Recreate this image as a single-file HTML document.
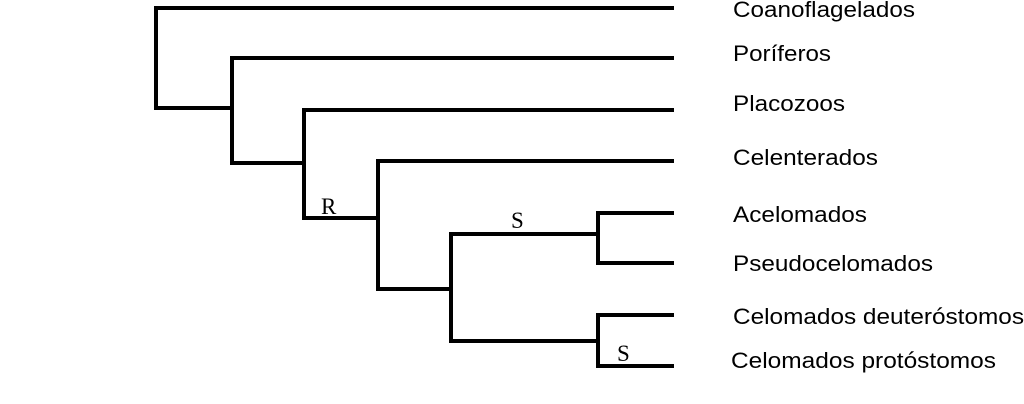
<!DOCTYPE html>
<html><head><meta charset="utf-8"><style>
html,body{margin:0;padding:0;background:#fff;width:1024px;height:404px;overflow:hidden}
</style></head><body>
<svg width="1024" height="404" xmlns="http://www.w3.org/2000/svg">
<g stroke="#000" stroke-width="4" fill="none" stroke-linecap="square" stroke-linejoin="miter">
<path d="M672 8 H156 V108 H232"/>
<path d="M672 58 H232 V163 H304"/>
<path d="M672 110 H304 V218 H378"/>
<path d="M672 161 H378 V289 H451"/>
<path d="M598 234 H451 V341 H598"/>
<path d="M672 213 H598 V263 H672"/>
<path d="M672 315 H598 V366 H672"/>
</g>
<g font-family="Liberation Sans, sans-serif" font-size="22" fill="#000" dominant-baseline="middle" lengthAdjust="spacingAndGlyphs">
<text x="733" y="11" textLength="182" lengthAdjust="spacingAndGlyphs">Coanoflagelados</text>
<text x="733" y="55" textLength="98" lengthAdjust="spacingAndGlyphs">Poríferos</text>
<text x="733" y="105" textLength="112" lengthAdjust="spacingAndGlyphs">Placozoos</text>
<text x="733" y="159" textLength="145" lengthAdjust="spacingAndGlyphs">Celenterados</text>
<text x="733" y="216" textLength="134" lengthAdjust="spacingAndGlyphs">Acelomados</text>
<text x="733" y="265" textLength="200" lengthAdjust="spacingAndGlyphs">Pseudocelomados</text>
<text x="733" y="318" textLength="291" lengthAdjust="spacingAndGlyphs">Celomados deuteróstomos</text>
<text x="731" y="362" textLength="265" lengthAdjust="spacingAndGlyphs">Celomados protóstomos</text>
</g>
<g font-family="Liberation Serif, serif" font-size="23" fill="#000">
<text x="321" y="214">R</text>
<text x="511" y="228">S</text>
<text x="617" y="361">S</text>
</g>
</svg>
</body></html>
